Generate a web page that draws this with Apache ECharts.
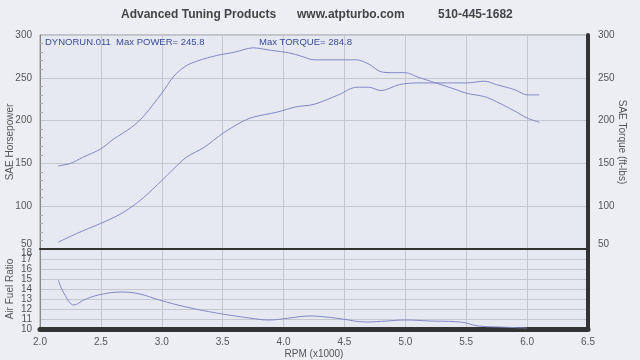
<!DOCTYPE html>
<html><head><meta charset="utf-8">
<script src="https://cdn.jsdelivr.net/npm/echarts@6/dist/echarts.min.js"></script>
<style>html,body{margin:0;padding:0;background:#eceef3;}#c{width:640px;height:360px;}</style>
</head><body><div id="c"></div>
<script>
const headerParts = ['Advanced Tuning Products', 'www.atpturbo.com', '510-445-1682'];
const runLabel = 'DYNORUN.011  Max POWER= 245.8';
const torqueLabel = 'Max TORQUE= 284.8';

const torqueRpm = [2.15,2.25,2.35,2.5,2.6,2.75,2.85,3.0,3.1,3.2,3.3,3.45,3.6,3.75,3.9,4.05,4.15,4.25,4.4,4.6,4.7,4.8,4.9,5.0,5.1,5.25,5.4,5.5,5.65,5.75,5.9,6.0,6.1];
const torqueVals = [147,150,157,167,178,192,205,232,252,264,270,276,280,285,282,279,275,271,271,271,266,257,256,256,251,244,237,232,228,222,211,203,198];

const hpRpm = [2.15,2.3,2.5,2.65,2.75,2.85,3.0,3.1,3.2,3.35,3.5,3.65,3.75,3.95,4.1,4.25,4.45,4.6,4.7,4.8,4.95,5.1,5.3,5.5,5.65,5.75,5.9,6.0,6.1];
const hpVals = [58,68,80,90,99,110,130,144,157,169,185,198,204,210,216,219,230,239,239,235,242,244,244,244,246,242,236,230,230];

const afrRpm = [2.15,2.2,2.28,2.36,2.48,2.67,2.82,2.98,3.2,3.45,3.72,3.88,4.05,4.21,4.35,4.48,4.68,4.85,5.0,5.2,5.45,5.6,5.77,6.0];
const afrVals = [14.9,13.5,12.4,12.9,13.4,13.7,13.5,12.9,12.2,11.6,11.1,10.9,11.1,11.3,11.2,11.0,10.7,10.8,10.9,10.8,10.7,10.3,10.2,10.1];

const pair = (xs, ys) => xs.map((x, i) => [x, ys[i]]);
const lineColor = '#8088c8';
const font = 'Liberation Sans, Arial, sans-serif';
const labelStyle = {color: '#555', fontSize: 10, fontFamily: font};
const gridLine = {show: true, lineStyle: {color: '#c3c7cf', width: 1}};
const nameStyle = {color: '#555', fontSize: 10, fontFamily: font};

const chart = echarts.init(document.getElementById('c'));
chart.setOption({
  backgroundColor: '#eceef3',
  animation: false,
  title: [
    {text: headerParts[0], left: 121, top: 9, padding: 0, textStyle: {fontSize: 12, fontWeight: 'bold', color: '#444', fontFamily: font}},
    {text: headerParts[1], left: 297, top: 9, padding: 0, textStyle: {fontSize: 12, fontWeight: 'bold', color: '#444', fontFamily: font}},
    {text: headerParts[2], left: 438, top: 9, padding: 0, textStyle: {fontSize: 12, fontWeight: 'bold', color: '#444', fontFamily: font}},
    {text: runLabel, left: 45, top: 37, padding: 0, textStyle: {fontSize: 9.5, fontWeight: 'normal', color: '#3a4a9a', fontFamily: font}},
    {text: torqueLabel, left: 259, top: 37, padding: 0, textStyle: {fontSize: 9.5, fontWeight: 'normal', color: '#3a4a9a', fontFamily: font}}
  ],
  grid: [
    {left: 40, right: 52, top: 35, height: 214, show: true, backgroundColor: '#e6e9f1', borderColor: '#999', borderWidth: 1, containLabel: false, outerBoundsMode: 'none'},
    {left: 40, right: 52, top: 249, height: 80, show: true, backgroundColor: '#e6e9f1', borderColor: '#999', borderWidth: 1, containLabel: false, outerBoundsMode: 'none'}
  ],
  xAxis: [
    {gridIndex: 0, type: 'value', min: 2, max: 6.5, interval: 0.5,
     axisLabel: {show: false}, axisTick: {show: false},
     axisLine: {show: true, lineStyle: {color: '#333', width: 2}},
     splitLine: gridLine},
    {gridIndex: 1, type: 'value', min: 2, max: 6.5, interval: 0.5,
     axisLabel: Object.assign({formatter: v => v.toFixed(1), margin: 8, hideOverlap: false}, labelStyle),
     axisTick: {show: false},
     axisLine: {show: true, lineStyle: {color: '#333', width: 5}},
     splitLine: gridLine,
     name: 'RPM (x1000)', nameLocation: 'middle', nameGap: 20, nameMoveOverlap: false,
     nameTextStyle: nameStyle}
  ],
  yAxis: [
    {gridIndex: 0, type: 'value', min: 50, max: 300, interval: 50, position: 'left',
     axisLabel: Object.assign({margin: 8, hideOverlap: false, formatter: v => v === 50 ? '{u|50}' : String(v), rich: {u: {padding: [0,0,10,0], color: '#555', fontSize: 10, fontFamily: font}}}, labelStyle),
     axisLine: {show: true, lineStyle: {color: '#888', width: 1}},
     axisTick: {show: false, inside: true}, minorTick: {show: true, splitNumber: 5, length: 3, lineStyle: {color: '#aaa'}},
     splitLine: gridLine,
     name: 'SAE Horsepower', nameLocation: 'middle', nameGap: 25, nameMoveOverlap: false,
     nameTextStyle: nameStyle},
    {gridIndex: 0, type: 'value', min: 50, max: 300, interval: 50, position: 'right',
     axisLabel: Object.assign({margin: 10, hideOverlap: false, formatter: v => v === 50 ? '{u|50}' : String(v), rich: {u: {padding: [0,0,10,0], color: '#555', fontSize: 10, fontFamily: font}}}, labelStyle),
     axisLine: {show: true, lineStyle: {color: '#333', width: 4}},
     axisTick: {show: false}, splitLine: {show: false},
     name: 'SAE Torque (ft-lbs)', nameLocation: 'middle', nameGap: 29, nameRotate: -90, nameMoveOverlap: false,
     nameTextStyle: nameStyle},
    {gridIndex: 1, type: 'value', min: 10, max: 18, interval: 1, position: 'left',
     axisLabel: Object.assign({margin: 8, hideOverlap: false, formatter: v => v === 18 ? '' : String(v)}, labelStyle),
     axisLine: {show: true, lineStyle: {color: '#888', width: 1}},
     axisTick: {show: false},
     splitLine: gridLine,
     name: 'Air Fuel Ratio', nameLocation: 'middle', nameGap: 25, nameMoveOverlap: false,
     nameTextStyle: nameStyle},
    {gridIndex: 1, type: 'value', min: 10, max: 18, interval: 1, position: 'right',
     axisLabel: {show: false}, axisTick: {show: false}, splitLine: {show: false},
     axisLine: {show: true, lineStyle: {color: '#333', width: 4}}},
    {gridIndex: 1, type: 'value', min: 10, max: 18, interval: 1, position: 'left',
     axisLabel: Object.assign({margin: 8, hideOverlap: false, formatter: v => v === 18 ? '{d|18}' : '', rich: {d: {padding: [8,0,0,0], color: '#555', fontSize: 10, fontFamily: font}}}, labelStyle),
     axisLine: {show: false}, axisTick: {show: false}, splitLine: {show: false}}
  ],
  series: [
    {name: 'Torque', type: 'line', xAxisIndex: 0, yAxisIndex: 0, data: pair(torqueRpm, torqueVals),
     showSymbol: false, smooth: 0.3, lineStyle: {color: lineColor, width: 1}},
    {name: 'Power', type: 'line', xAxisIndex: 0, yAxisIndex: 0, data: pair(hpRpm, hpVals),
     showSymbol: false, smooth: 0.3, lineStyle: {color: lineColor, width: 1}},
    {name: 'AFR', type: 'line', xAxisIndex: 1, yAxisIndex: 2, data: pair(afrRpm, afrVals),
     showSymbol: false, smooth: 0.4, lineStyle: {color: lineColor, width: 1}}
  ]
});
</script></body></html>
